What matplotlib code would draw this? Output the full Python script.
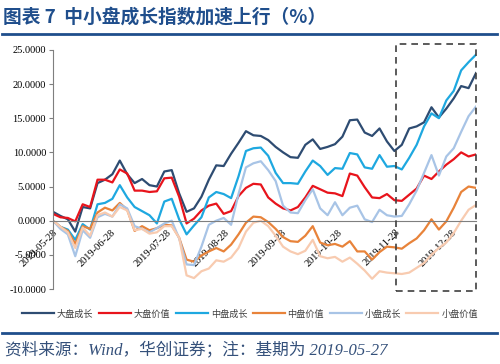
import pandas as pd
import matplotlib
matplotlib.use("Agg")
import matplotlib.pyplot as plt
import matplotlib.dates as mdates
from matplotlib.lines import Line2D
from matplotlib.patches import Rectangle
from matplotlib.ticker import FormatStrFormatter

plt.rcParams['font.family'] = ['Noto Sans CJK SC', 'DejaVu Sans']

# 58 samples, 2019-05-28 .. 2020-01-10 (base 2019-05-27 = 0)
dates = pd.date_range("2019-05-28", "2020-01-10", periods=58)

big_growth = [1.3, 0.7, 0.2, -1.6, 2.0, 1.8, 5.5, 6.0, 6.8, 8.8,
              6.8, 5.5, 6.1, 5.2, 5.0, 7.2, 7.4, 4.0, 1.3, 1.8,
              3.5, 6.0, 8.1, 8.0, 9.8, 11.4, 13.1, 12.5, 12.4, 11.8,
              10.8, 10.0, 9.3, 9.2, 11.1, 11.9, 10.5, 10.8, 11.2, 12.3,
              14.7, 14.8, 12.9, 12.4, 13.5, 11.6, 10.2, 11.1, 13.5, 13.8,
              14.4, 16.6, 15.1, 16.4, 17.9, 19.7, 19.4, 21.6]
big_value = [1.0, 0.5, 0.4, -0.1, 2.4, 2.0, 6.0, 6.0, 5.6, 7.5,
             6.9, 4.4, 4.4, 4.2, 4.3, 6.2, 6.3, 3.5, -0.4, 0.3,
             1.5, 2.2, 2.5, 1.0, 1.4, 3.6, 4.8, 5.4, 5.3, 3.4,
             2.5, 1.8, 1.5, 2.0, 3.4, 5.1, 4.6, 4.1, 4.0, 3.6,
             6.9, 6.6, 4.9, 3.4, 3.3, 3.9, 3.0, 2.9, 3.8, 4.7,
             6.6, 6.1, 7.2, 8.2, 9.0, 10.0, 9.4, 9.7]
mid_growth = [0.0, -0.9, -1.3, -2.8, -0.5, -1.3, 2.4, 2.6, 3.2, 5.2,
              3.4, 2.0, 1.4, 0.8, -0.4, 2.8, 3.2, 0.2, -2.0, -0.7,
              0.5, 3.4, 4.2, 3.9, 3.3, 6.5, 10.2, 10.6, 10.7, 9.5,
              7.0, 5.5, 5.5, 5.4, 7.2, 8.8, 8.0, 6.7, 7.7, 7.6,
              9.9, 9.7, 7.8, 7.6, 9.6, 7.9, 8.0, 7.5, 9.2, 11.1,
              13.8, 15.7, 15.0, 17.6, 19.0, 22.0, 23.2, 24.3]
mid_value = [0.0, -0.9, -1.5, -3.4, -0.8, -1.2, 1.2, 1.9, 1.5, 2.6,
             1.6, -1.5, -0.8, -1.4, -1.1, -0.6, -0.7, -2.5, -5.7, -6.0,
             -5.1, -4.5, -4.0, -4.5, -3.5, -2.0, -0.3, 0.6, 0.5, -0.2,
             -1.2, -2.4, -3.0, -3.1, -2.2, -0.8, -3.2, -3.6, -3.4, -3.8,
             -3.0, -4.5, -4.5, -5.7, -4.6, -3.8, -3.9, -4.1, -3.3, -2.6,
             -1.4, 0.2, -1.3, -0.1, 1.9, 4.2, 5.0, 4.8]
small_growth = [0.0, -1.2, -2.0, -5.2, -1.4, -2.5, 0.5, 1.0, 0.6, 2.4,
                1.8, -0.8, -1.2, -1.7, -1.1, -0.4, 0.0, -2.6, -6.4, -6.5,
                -3.8, -0.6, 0.0, 0.4, -0.6, 3.9, 7.8, 8.4, 8.7, 7.4,
                5.8, 2.2, 1.2, 1.1, 3.0, 4.6, 1.8, 0.8, 2.7, 0.8,
                1.9, 2.2, 0.2, -0.2, 1.6, 0.8, 0.6, 0.7, 2.4, 4.4,
                7.0, 9.6, 6.6, 9.4, 10.6, 13.0, 15.3, 16.7]
small_value = [0.0, -0.9, -1.7, -4.0, -1.0, -2.2, 0.8, 1.2, 0.6, 2.0,
               1.5, -1.4, -1.2, -1.9, -1.7, -0.8, -0.8, -2.5, -8.0, -8.4,
               -7.4, -7.0, -5.8, -6.0, -5.4, -4.0, -1.6, -0.3, 0.0, -0.8,
               -2.2, -3.8, -4.5, -4.9, -4.4, -2.8, -5.2, -5.5, -5.3, -6.0,
               -5.4, -6.3, -7.3, -8.5, -7.4, -7.6, -7.7, -7.8, -7.6, -6.9,
               -6.2, -5.0, -4.0, -3.2, -1.8, 0.0, 1.6, 2.3]

names = ['大盘成长', '大盘价值', '中盘成长', '中盘价值', '小盘成长', '小盘价值']
series = [big_growth, big_value, mid_growth, mid_value, small_growth, small_value]
colors = ['#2E4C72', '#E8141C', '#1EA8E0', '#E8833A', '#A8C4E6', '#F8CBB0']
tick_dates = ['2019-05-28', '2019-06-28', '2019-07-28', '2019-08-28',
              '2019-09-28', '2019-10-28', '2019-11-28', '2019-12-28']

blue = '#1F4E8C'
serif = 'Liberation Serif'

fig = plt.figure(figsize=(5.0, 3.64), dpi=100)
ax = fig.add_axes([0.106, 0.206, 0.846, 0.657])

for name, vals, c in zip(names, series, colors):
    ax.plot(dates, vals, color=c, lw=1.6, label=name)

ax.set_xlim(pd.Timestamp('2019-05-28'), pd.Timestamp('2020-01-10'))
ax.set_ylim(-10, 25)
ax.set_yticks(range(-10, 26, 5))
ax.yaxis.set_major_formatter(FormatStrFormatter('%.4f'))
ax.set_xticks(pd.to_datetime(tick_dates))
ax.xaxis.set_major_formatter(mdates.DateFormatter('%Y-%m-%d'))

for s in ['top', 'right']:
    ax.spines[s].set_visible(False)
ax.spines['bottom'].set_position(('data', 0))
ax.spines['bottom'].set_color('#7F7F7F')
ax.spines['left'].set_color('#7F7F7F')
ax.tick_params(axis='y', length=3, color='#7F7F7F', labelsize=7.5, pad=2)
ax.tick_params(axis='x', length=0, labelsize=7.5, pad=5)
for lab in ax.get_yticklabels() + ax.get_xticklabels():
    lab.set_fontfamily(serif)
for lab in ax.get_xticklabels():
    lab.set_rotation(45)
    lab.set_ha('right')
    lab.set_rotation_mode('anchor')

# dashed highlight box over the last stretch
x0 = mdates.date2num(pd.Timestamp('2019-11-28'))
x1 = mdates.date2num(pd.Timestamp('2020-01-10'))
ax.add_patch(Rectangle((x0, -10.3), x1 - x0, 36.2, fill=False, ls=(0, (4, 3)),
                       lw=1.2, ec='#404040', clip_on=False, zorder=5))

fig.text(0.006, 1 - 17 / 364, '图表 7  中小盘成长指数加速上行（%）', fontsize=13.5,
         weight='bold', color=blue, va='center')
fig.add_artist(Line2D([0.004, 0.994], [1 - 34 / 364] * 2, lw=2, color=blue))
fig.add_artist(Line2D([0.004, 0.994], [1 - 333 / 364] * 2, lw=2, color=blue))

fig.legend(loc='center', bbox_to_anchor=(0.5, 1 - 314 / 364), ncol=6, frameon=False,
           fontsize=6.6, handlelength=3.5, columnspacing=0.6, handletextpad=0.3,
           labelcolor='#404040')

fig.text(0.01, 1 - 350 / 364, '资料来源：Wind，华创证券；注：基期为 2019-05-27',
         fontsize=12, style='italic', color='#34507A', va='center',
         family=[serif, 'Noto Sans CJK SC'])

fig.savefig('out.png', dpi=100)
